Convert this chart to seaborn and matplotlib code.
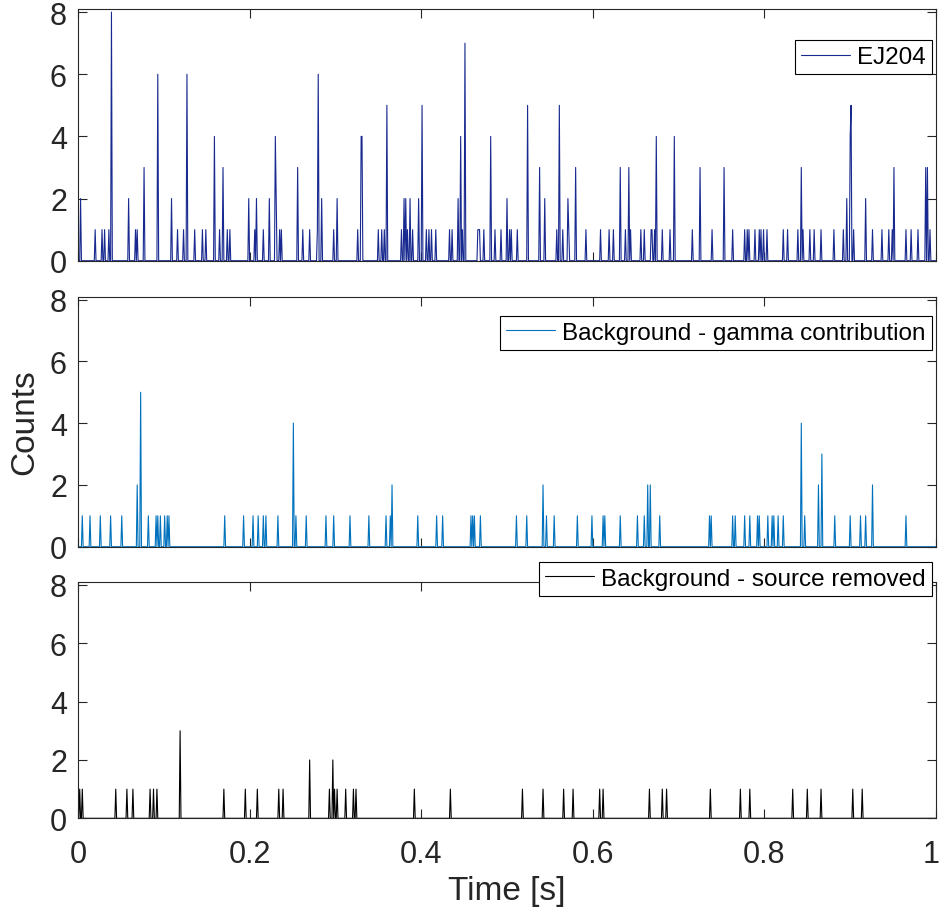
import numpy as np
import pandas as pd
import matplotlib
matplotlib.use("Agg")
import matplotlib.pyplot as plt
import matplotlib.transforms as mtransforms
import seaborn as sns

# Event bins (time in s, counts per 1 ms bin) for each measurement
ej204_t = [0.003, 0.020, 0.028, 0.031, 0.036, 0.039, 0.059, 0.067, 0.069, 0.077,
           0.093, 0.109, 0.116, 0.123, 0.127, 0.136, 0.145, 0.149, 0.159, 0.165,
           0.169, 0.174, 0.177, 0.199, 0.206, 0.208, 0.216, 0.223, 0.230, 0.231,
           0.235, 0.237, 0.256, 0.262, 0.270, 0.279, 0.280, 0.284, 0.298, 0.302,
           0.326, 0.330, 0.331, 0.350, 0.354, 0.357, 0.360, 0.377, 0.380, 0.382,
           0.384, 0.387, 0.390, 0.397, 0.401, 0.406, 0.409, 0.412, 0.417, 0.433,
           0.436, 0.443, 0.446, 0.448, 0.451, 0.466, 0.467, 0.468, 0.473, 0.481,
           0.486, 0.493, 0.500, 0.503, 0.505, 0.512, 0.524, 0.538, 0.544, 0.558,
           0.561, 0.565, 0.571, 0.572, 0.580, 0.592, 0.609, 0.619, 0.624, 0.632,
           0.638, 0.642, 0.644, 0.656, 0.660, 0.668, 0.669, 0.672, 0.674, 0.681,
           0.690, 0.695, 0.716, 0.725, 0.739, 0.753, 0.763, 0.777, 0.780, 0.782,
           0.789, 0.794, 0.796, 0.799, 0.803, 0.822, 0.827, 0.839, 0.843, 0.845,
           0.853, 0.858, 0.866, 0.881, 0.892, 0.896, 0.900, 0.901, 0.904, 0.918,
           0.926, 0.937, 0.945, 0.949, 0.951, 0.965, 0.971, 0.979, 0.988, 0.990,
           0.993]
ej204_c = [2, 1, 1, 1, 1, 8, 2, 1, 1, 3,
           6, 2, 1, 1, 6, 1, 1, 1, 4, 1,
           3, 1, 1, 2, 1, 2, 1, 2, 4, 2,
           1, 1, 3, 1, 1, 1, 6, 2, 1, 2,
           1, 4, 4, 1, 1, 1, 5, 1, 2, 2,
           1, 2, 1, 2, 5, 1, 1, 1, 1, 1,
           1, 2, 4, 1, 7, 1, 1, 1, 1, 4,
           1, 1, 2, 1, 1, 1, 5, 3, 2, 1,
           5, 1, 2, 1, 3, 1, 1, 1, 1, 3,
           1, 3, 1, 1, 1, 1, 1, 1, 4, 1,
           1, 4, 1, 3, 1, 3, 1, 1, 1, 1,
           1, 1, 1, 1, 1, 1, 1, 1, 3, 1,
           1, 1, 1, 1, 1, 2, 4, 5, 1, 2,
           1, 1, 1, 1, 3, 1, 1, 1, 3, 3,
           1]

gamma_t = [0.005, 0.014, 0.026, 0.038, 0.051, 0.069, 0.073, 0.082, 0.091, 0.093,
           0.096, 0.101, 0.104, 0.106, 0.171, 0.193, 0.204, 0.210, 0.216, 0.219,
           0.233, 0.251, 0.254, 0.266, 0.289, 0.298, 0.317, 0.339, 0.359, 0.364,
           0.366, 0.396, 0.418, 0.425, 0.458, 0.460, 0.462, 0.469, 0.511, 0.523,
           0.542, 0.546, 0.555, 0.582, 0.599, 0.612, 0.614, 0.632, 0.652, 0.660,
           0.664, 0.667, 0.678, 0.736, 0.738, 0.763, 0.766, 0.777, 0.783, 0.792,
           0.794, 0.804, 0.809, 0.811, 0.816, 0.822, 0.843, 0.847, 0.863, 0.867,
           0.882, 0.900, 0.912, 0.918, 0.926, 0.965]
gamma_c = [1, 1, 1, 1, 1, 2, 5, 1, 1, 1,
           1, 1, 1, 1, 1, 1, 1, 1, 1, 1,
           1, 4, 1, 1, 1, 1, 1, 1, 1, 1,
           2, 1, 1, 1, 1, 1, 1, 1, 1, 1,
           2, 1, 1, 1, 1, 1, 1, 1, 1, 1,
           2, 2, 1, 1, 1, 1, 1, 1, 1, 1,
           1, 1, 1, 1, 1, 1, 4, 1, 2, 3,
           1, 1, 1, 1, 2, 1]

removed_t = [0.002, 0.005, 0.044, 0.057, 0.064, 0.084, 0.088, 0.092, 0.119, 0.170,
             0.195, 0.209, 0.234, 0.239, 0.270, 0.293, 0.297, 0.299, 0.302, 0.312,
             0.321, 0.324, 0.392, 0.434, 0.518, 0.542, 0.566, 0.577, 0.608, 0.612,
             0.666, 0.681, 0.686, 0.737, 0.772, 0.783, 0.833, 0.850, 0.866, 0.903,
             0.914]
removed_c = [1, 1, 1, 1, 1, 1, 1, 1, 3, 1,
             1, 1, 1, 1, 2, 1, 2, 1, 1, 1,
             1, 1, 1, 1, 1, 1, 1, 1, 1, 1,
             1, 1, 1, 1, 1, 1, 1, 1, 1, 1,
             1]

series_labels = ["EJ204", "Background - gamma contribution", "Background - source removed"]
series_colors = ["#18298f", "#0072bd", "#000000"]
x_ticks = [0, 0.2, 0.4, 0.6, 0.8, 1]
x_tick_labels = ["0", "0.2", "0.4", "0.6", "0.8", "1"]
y_ticks = [0, 2, 4, 6, 8]


def binned(times, counts, width=0.001):
    """Full 1 ms time series with zeros between the recorded events."""
    n = int(round(1.0 / width)) + 1
    t = np.arange(n) * width
    c = np.zeros(n)
    idx = np.round(np.asarray(times) / width).astype(int)
    c[idx] = counts
    return pd.DataFrame({"Time [s]": t, "Counts": c})


frames = [binned(ej204_t, ej204_c), binned(gamma_t, gamma_c), binned(removed_t, removed_c)]

sns.set_theme(style="ticks")
plt.rcParams["font.family"] = ["Liberation Sans", "DejaVu Sans"]
ink = "#262626"

fig = plt.figure(figsize=(9.39, 9.12), dpi=100)
W, H = 939, 912
# pixel boxes: (top, bottom) of each panel
boxes = [(10, 261.7), (297.5, 547.7), (583, 819.3)]
legend_y = [0.877, 0.924, 1.085]
left_px, right_px = 78, 936

axes = []
for i, (top, bot) in enumerate(boxes):
    ax = fig.add_axes([left_px / W, 1 - bot / H, (right_px - left_px) / W, (bot - top) / H])
    sns.lineplot(data=frames[i], x="Time [s]", y="Counts", ax=ax, color=series_colors[i],
                 linewidth=0.8, estimator=None, sort=False, label=series_labels[i])
    ax.set_xlim(0, 1)
    ax.set_ylim(0, 8.1)
    ax.set_xticks(x_ticks)
    ax.set_yticks(y_ticks)
    ax.tick_params(direction="in", top=True, right=True, length=6.5, width=0.8,
                   labelsize=22, labelcolor=ink, color=ink, pad=8)
    ax.tick_params(axis="x", pad=15)
    for s in ax.spines.values():
        s.set_color(ink)
        s.set_linewidth(0.8)
    if i < 2:
        ax.set_xticklabels([])
        ax.set_xlabel("")
    else:
        ax.set_xticklabels(x_tick_labels)
        ax.set_xlabel("Time [s]", fontsize=24, color=ink, labelpad=4)
        # keep the last tick label inside the canvas
        last = ax.get_xticklabels()[-1]
        last.set_transform(last.get_transform() +
                           mtransforms.ScaledTranslation(-5 / 100, 0, fig.dpi_scale_trans))
    if i == 1:
        ax.set_ylabel("Counts", fontsize=24, color=ink, labelpad=7)
    else:
        ax.set_ylabel("")
    leg = ax.legend(loc="upper right", bbox_to_anchor=(0.995, legend_y[i]), borderaxespad=0,
                    frameon=True, fancybox=False, framealpha=1, edgecolor="black",
                    fontsize=17.5, handlelength=2.0, handletextpad=0.3, borderpad=0.25)
    leg.get_frame().set_linewidth(0.8)
    leg.set_zorder(5)
    for txt in leg.get_texts():
        txt.set_color("black")
    axes.append(ax)

fig.savefig("out.png", dpi=100, facecolor="white")
